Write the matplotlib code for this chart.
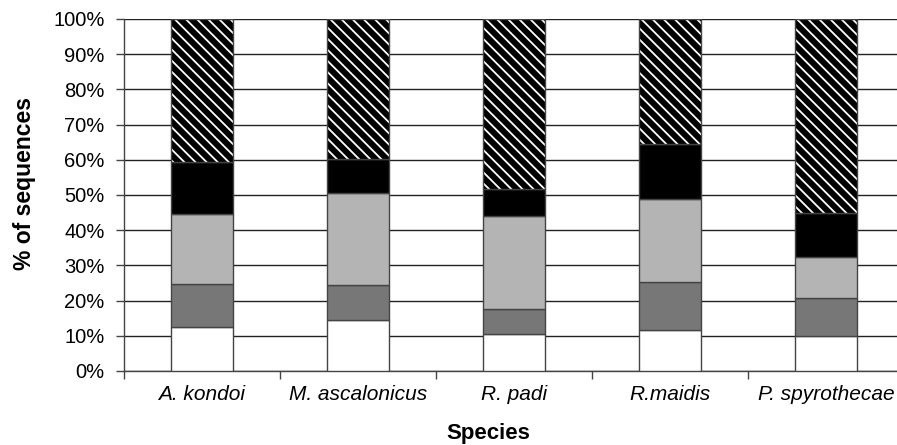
import matplotlib.pyplot as plt
import numpy as np

plt.rcParams['font.family'] = ['Liberation Sans', 'DejaVu Sans']
plt.rcParams['hatch.linewidth'] = 1.3

species = ['A. kondoi', 'M. ascalonicus', 'R. padi', 'R.maidis', 'P. spyrothecae']

# percentage of sequences in each group, bottom to top
white_part = [12.5, 14.5, 10.5, 11.6, 10.0]
dark_part = [12.2, 9.9, 7.1, 13.7, 10.7]
light_part = [19.9, 26.2, 26.4, 23.6, 11.7]
black_part = [14.8, 9.6, 7.7, 15.5, 12.5]
hatch_part = [40.6, 39.8, 48.3, 35.6, 55.1]

fig = plt.figure(figsize=(8.97, 4.45), dpi=100)
ax = fig.add_axes([124 / 897, 74 / 445, 780 / 897, 352 / 445])

x = np.arange(len(species))
w = 0.4
edge = '#444444'
bottom = np.zeros(len(species))

for vals, col in [(white_part, 'white'), (dark_part, '#777777'),
                  (light_part, '#b4b4b4'), (black_part, 'black')]:
    ax.bar(x, vals, w, bottom=bottom, color=col, edgecolor=edge, linewidth=1, zorder=3)
    bottom += np.array(vals)

# hatched top part: black fill with white stripes, then outline on top
ax.bar(x, hatch_part, w, bottom=bottom, color='black', edgecolor='white',
       hatch='\\\\\\', linewidth=0, zorder=3)
ax.bar(x, hatch_part, w, bottom=bottom, fill=False, edgecolor=edge, linewidth=1, zorder=4)

ax.set_xlim(-0.5, len(species) - 0.5)
ax.set_ylim(0, 100)
ax.set_yticks(np.arange(0, 101, 10))
ax.set_yticklabels([f'{v}%' for v in range(0, 101, 10)], fontsize=14.5)
ax.yaxis.grid(True, color='#222222', linewidth=1, zorder=0)
ax.set_axisbelow(True)

ax.set_xticks(x)
ax.set_xticklabels(species, fontsize=15, style='italic')
ax.set_xticks(np.arange(-0.5, len(species), 1), minor=True)
ax.tick_params(axis='x', which='major', length=0, pad=10)
ax.tick_params(axis='x', which='minor', length=6, width=1, color='#444444')
ax.tick_params(axis='y', length=6, width=1, color='#444444', pad=8)

for s in ['top', 'right']:
    ax.spines[s].set_visible(False)
for s in ['left', 'bottom']:
    ax.spines[s].set_color('#444444')
    ax.spines[s].set_linewidth(1)

fig.text(25 / 897, 1 - 184 / 445, '% of sequences', fontsize=16.5, fontweight='bold',
         rotation=90, ha='center', va='center')
fig.text(488 / 897, 1 - 434 / 445, 'Species', fontsize=16, fontweight='bold',
         ha='center', va='center')

fig.savefig('out.png', dpi=100)
